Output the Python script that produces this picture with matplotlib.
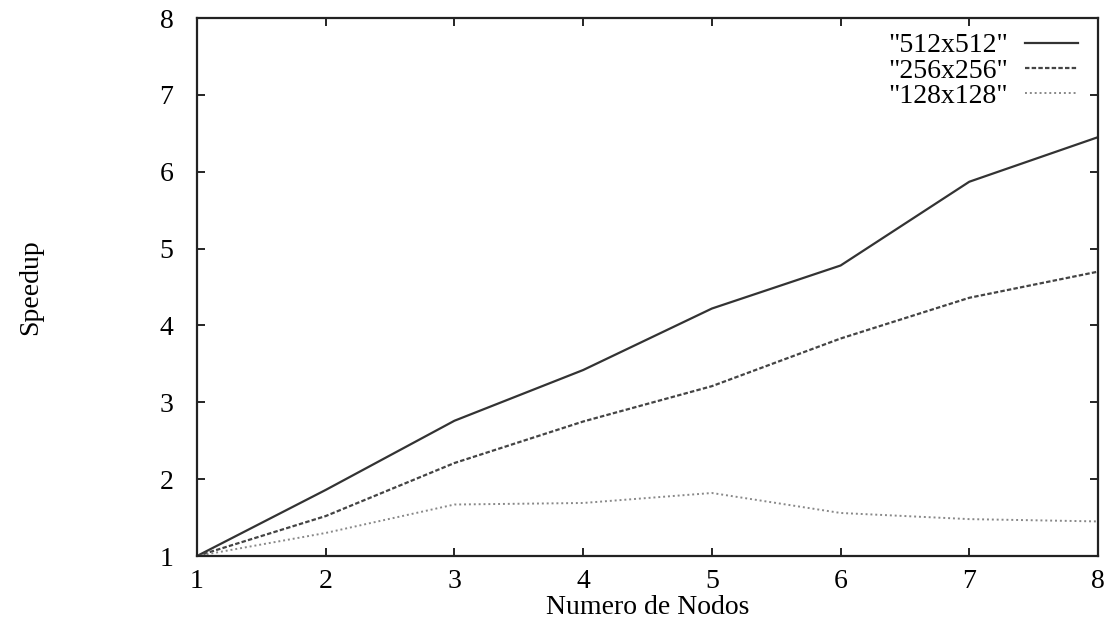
import matplotlib
matplotlib.use("Agg")
import matplotlib.pyplot as plt

plt.rcParams['font.family'] = ['Liberation Serif', 'DejaVu Serif']

nodos = [1, 2, 3, 4, 5, 6, 7, 8]
speedup_512 = [1.0, 1.86, 2.76, 3.42, 4.22, 4.78, 5.87, 6.45]
speedup_256 = [1.0, 1.52, 2.21, 2.75, 3.21, 3.83, 4.36, 4.70]
speedup_128 = [1.0, 1.30, 1.67, 1.69, 1.82, 1.56, 1.48, 1.45]

fig = plt.figure(figsize=(11.08, 6.26), dpi=100)
ax = fig.add_axes([0.1778, 0.1118, 0.8132, 0.8594])

ax.plot(nodos, speedup_512, color='#333333', lw=1.6, label='"512x512"')
ax.plot(nodos, speedup_256, color='#444444', lw=1.6, linestyle=(0, (2, 1)), label='"256x256"')
ax.plot(nodos, speedup_128, color='#888888', lw=1.4, linestyle=(0, (1, 1.5)), label='"128x128"')

ax.set_xlim(1, 8)
ax.set_ylim(1, 8)
ax.set_xticks(nodos)
ax.set_yticks(range(1, 9))
ax.tick_params(direction='in', top=True, right=True, labelsize=20, length=6, width=1.2)
ax.tick_params(axis='x', pad=9)
ax.tick_params(axis='y', pad=17)
for s in ax.spines.values():
    s.set_linewidth(1.6)
    s.set_color('#222222')

ax.set_xlabel("Numero de Nodos", fontsize=20, labelpad=1)
ax.set_ylabel("Speedup", fontsize=20, labelpad=84)

ax.legend(loc='upper right', frameon=False, markerfirst=False, fontsize=20,
          handlelength=1.9, handletextpad=0.6, labelspacing=0.0,
          bbox_to_anchor=(1.005, 1.019))

fig.savefig("out.png", dpi=100)
